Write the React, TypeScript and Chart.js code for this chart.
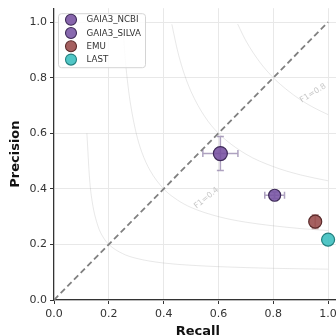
import React, { useEffect, useRef } from 'react';
import { Chart, registerables } from 'chart.js';

Chart.register(...registerables);

// ---- data ----
const methods = ['GAIA3_NCBI', 'GAIA3_SILVA', 'EMU', 'LAST'];
const recall = [0.607, 0.805, 0.953, 1.0];
const precision = [0.527, 0.377, 0.282, 0.217];
const recallErr = [0.064, 0.036, 0, 0];
const precisionErr = [0.061, 0.012, 0.025, 0];

const tickValues = [0, 0.2, 0.4, 0.6, 0.8, 1.0];

const diagonalRecall = [0, 1];
const diagonalPrecision = [0, 1];

const isoF1Levels = [0.2, 0.4, 0.6, 0.8];
const isoRecall = [
  [0.12, 0.13, 0.14, 0.16, 0.18, 0.2, 0.25, 0.3, 0.4, 0.5, 0.6, 0.8, 1.0],
  [0.25, 0.26, 0.27, 0.28, 0.3, 0.32, 0.35, 0.4, 0.45, 0.5, 0.6, 0.7, 0.8, 0.9, 1.0],
  [0.43, 0.45, 0.47, 0.5, 0.55, 0.6, 0.7, 0.8, 0.9, 1.0],
  [0.67, 0.7, 0.75, 0.8, 0.85, 0.9, 0.95, 1.0],
];
const isoPrecision = [
  [0.6, 0.433, 0.35, 0.267, 0.225, 0.2, 0.167, 0.15, 0.133, 0.125, 0.12, 0.114, 0.111],
  [1.0, 0.867, 0.771, 0.7, 0.6, 0.533, 0.467, 0.4, 0.36, 0.333, 0.3, 0.28, 0.267, 0.257, 0.25],
  [0.992, 0.9, 0.829, 0.75, 0.66, 0.6, 0.525, 0.48, 0.45, 0.429],
  [0.993, 0.933, 0.857, 0.8, 0.756, 0.72, 0.691, 0.667],
];
const isoLabelTexts = ['F1=0.4', 'F1=0.8'];

// ---- styles ----
const fills = ['rgba(118,80,160,0.88)', 'rgba(120,84,164,0.88)', 'rgba(152,74,74,0.88)', 'rgba(62,192,192,0.9)'];
const edges = ['#3e2a58', '#3e2a58', '#5b2b2b', '#23807f'];
const errColors = ['rgba(120,100,150,0.6)', 'rgba(120,100,150,0.6)', 'rgba(150,90,90,0.55)', 'rgba(60,150,150,0.55)'];
const radii = [7, 6, 6.5, 6.5];
const isoLabelAnchors = [
  { x: 0.556, y: 0.367, angle: -39 },
  { x: 0.945, y: 0.744, angle: -32 },
];
const FONT = '"DejaVu Sans", sans-serif';

const errorBarPlugin = {
  id: 'errorBars',
  beforeDatasetDraw(chart: any, args: any) {
    const ds = chart.data.datasets[args.index];
    if (!ds.errX) return;
    const { ctx, scales, chartArea } = chart;
    const xs = scales.x, ys = scales.y;
    ctx.save();
    ctx.beginPath();
    ctx.rect(chartArea.left, chartArea.top, chartArea.right - chartArea.left, chartArea.bottom - chartArea.top);
    ctx.clip();
    ctx.strokeStyle = ds.errColor;
    ctx.lineWidth = 1.5;
    const cap = 3.5;
    ds.data.forEach((p: any, j: number) => {
      const ex = ds.errX[j];
      const ey = ds.errY[j];
      const px = xs.getPixelForValue(p.x);
      const py = ys.getPixelForValue(p.y);
      ctx.beginPath();
      if (ex > 0) {
        const l = xs.getPixelForValue(p.x - ex);
        const r = xs.getPixelForValue(p.x + ex);
        ctx.moveTo(l, py); ctx.lineTo(r, py);
        ctx.moveTo(l, py - cap); ctx.lineTo(l, py + cap);
        ctx.moveTo(r, py - cap); ctx.lineTo(r, py + cap);
      }
      if (ey > 0) {
        const t = ys.getPixelForValue(p.y + ey);
        const b = ys.getPixelForValue(p.y - ey);
        ctx.moveTo(px, t); ctx.lineTo(px, b);
        ctx.moveTo(px - cap, t); ctx.lineTo(px + cap, t);
        ctx.moveTo(px - cap, b); ctx.lineTo(px + cap, b);
      }
      ctx.stroke();
    });
    ctx.restore();
  },
};

const isoLabelPlugin = {
  id: 'isoLabels',
  beforeDatasetsDraw(chart: any) {
    const { ctx, scales } = chart;
    ctx.save();
    ctx.fillStyle = '#c8c8c8';
    ctx.font = `8px ${FONT}`;
    ctx.textAlign = 'center';
    ctx.textBaseline = 'middle';
    isoLabelTexts.forEach((t, i) => {
      const a = isoLabelAnchors[i];
      ctx.save();
      ctx.translate(scales.x.getPixelForValue(a.x), scales.y.getPixelForValue(a.y));
      ctx.rotate((a.angle * Math.PI) / 180);
      ctx.fillText(t, 0, 0);
      ctx.restore();
    });
    ctx.restore();
  },
};

const legendPlugin = {
  id: 'customLegend',
  afterDraw(chart: any) {
    const { ctx, chartArea } = chart;
    const x0 = chartArea.left + 4;
    const y0 = chartArea.top + 5;
    const w = 87;
    const h = 54;
    ctx.save();
    ctx.beginPath();
    ctx.roundRect(x0 + 0.5, y0 + 0.5, w, h, 3);
    ctx.fillStyle = 'rgba(255,255,255,0.85)';
    ctx.fill();
    ctx.strokeStyle = '#d4d4d4';
    ctx.lineWidth = 1;
    ctx.stroke();
    ctx.font = `8.7px ${FONT}`;
    ctx.textBaseline = 'middle';
    ctx.textAlign = 'left';
    methods.forEach((m, i) => {
      const cy = y0 + 6.5 + i * 13.3;
      const cx = x0 + 13;
      ctx.beginPath();
      ctx.arc(cx, cy, 5.5, 0, Math.PI * 2);
      ctx.fillStyle = fills[i];
      ctx.fill();
      ctx.strokeStyle = edges[i];
      ctx.lineWidth = 1.1;
      ctx.stroke();
      ctx.fillStyle = '#333';
      ctx.fillText(m, x0 + 28.5, cy + 0.5);
    });
    ctx.restore();
  },
};

export default function App() {
  const ref = useRef<HTMLCanvasElement>(null);

  useEffect(() => {
    const canvas = ref.current;
    if (!canvas) return;

    const pointDatasets = methods.map((m, i) => ({
      type: 'scatter',
      label: m,
      data: [{ x: recall[i], y: precision[i] }],
      errX: [recallErr[i]],
      errY: [precisionErr[i]],
      errColor: errColors[i],
      backgroundColor: fills[i],
      borderColor: edges[i],
      borderWidth: 1.2,
      pointRadius: radii[i],
      pointHoverRadius: radii[i],
      order: 0,
    }));

    const diagDataset = {
      type: 'line',
      label: 'diagonal',
      data: diagonalRecall.map((x, j) => ({ x, y: diagonalPrecision[j] })),
      borderColor: '#808080',
      borderWidth: 1.8,
      borderDash: [6, 3.5],
      pointRadius: 0,
      showLine: true,
      fill: false,
      order: 1,
    };

    const isoDatasets = isoF1Levels.map((f, k) => ({
      type: 'line',
      label: `F1=${f}`,
      data: isoRecall[k].map((x, j) => ({ x, y: isoPrecision[k][j] })),
      borderColor: 'rgba(150,150,150,0.22)',
      borderWidth: 1,
      pointRadius: 0,
      showLine: true,
      fill: false,
      cubicInterpolationMode: 'monotone',
      order: 2,
    }));

    const tickFmt = (v: any) => Number(v).toFixed(1);

    const chart = new Chart(canvas, {
      type: 'scatter',
      data: { datasets: [...pointDatasets, diagDataset, ...isoDatasets] as any },
      options: {
        animation: false,
        responsive: false,
        devicePixelRatio: 1,
        layout: { padding: { top: 5, right: 7, left: 0, bottom: 0 } },
        plugins: { legend: { display: false }, tooltip: { enabled: false } },
        scales: {
          x: {
            type: 'linear',
            min: 0,
            max: 1.05,
            afterBuildTicks: (s: any) => { s.ticks = tickValues.map((v) => ({ value: v })); },
            afterFit: (s: any) => { s.height = 40; s.paddingLeft = 0; s.paddingRight = 0; },
            grid: { color: '#e8e8e8', lineWidth: 1, tickColor: '#333', tickLength: 4, tickWidth: 1 },
            border: { display: true, color: '#333', width: 1.2 },
            ticks: { color: '#333', font: { family: FONT, size: 11 }, padding: 4, maxRotation: 0, autoSkip: false, callback: tickFmt },
            title: { display: true, text: 'Recall', color: '#111', font: { family: FONT, size: 13, weight: 'bold' }, padding: { top: 0, bottom: 1 } },
          },
          y: {
            type: 'linear',
            min: 0,
            max: 1.05,
            afterBuildTicks: (s: any) => { s.ticks = tickValues.map((v) => ({ value: v })); },
            afterFit: (s: any) => { s.width = 54; s.paddingTop = 0; s.paddingBottom = 0; },
            grid: { color: '#e8e8e8', lineWidth: 1, tickColor: '#333', tickLength: 4, tickWidth: 1 },
            border: { display: true, color: '#333', width: 1.2 },
            ticks: { color: '#333', font: { family: FONT, size: 11 }, padding: 3, autoSkip: false, callback: tickFmt },
            title: { display: true, text: 'Precision', color: '#111', font: { family: FONT, size: 13, weight: 'bold' }, padding: { top: 8, bottom: 0 } },
          },
        },
      } as any,
      plugins: [isoLabelPlugin, errorBarPlugin, legendPlugin],
    });

    return () => chart.destroy();
  }, []);

  return (
    <div style={{ position: 'fixed', left: 0, top: 0, width: 336, height: 336, overflow: 'hidden', background: '#fff' }}>
      <canvas ref={ref} width={350} height={340} style={{ display: 'block', width: 350, height: 340 }} />
    </div>
  );
}
